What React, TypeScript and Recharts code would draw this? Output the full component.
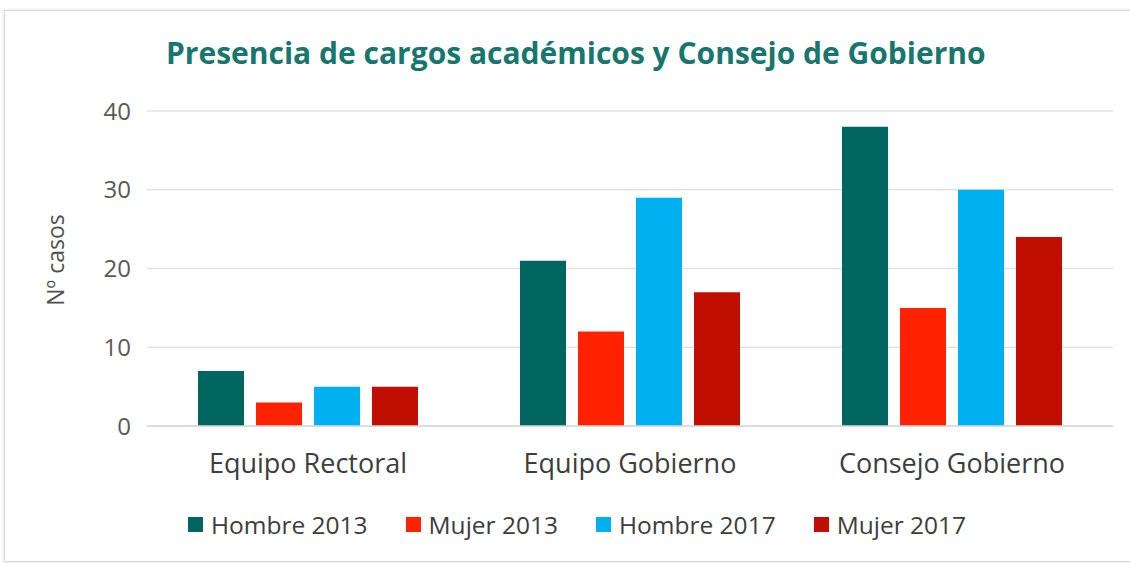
import { BarChart, Bar, XAxis, YAxis, CartesianGrid, Legend } from "recharts";

// categorías y valores
const categories = ["Equipo Rectoral", "Equipo Gobierno", "Consejo Gobierno"];
const hombre2013 = [7, 21, 38];
const mujer2013 = [3, 12, 15];
const hombre2017 = [5, 29, 30];
const mujer2017 = [5, 17, 24];
const yTicks = [0, 10, 20, 30, 40];

const series = [
  { key: "h2013", name: "Hombre 2013", color: "#00665F", values: hombre2013 },
  { key: "m2013", name: "Mujer 2013", color: "#FF2200", values: mujer2013 },
  { key: "h2017", name: "Hombre 2017", color: "#00B0F0", values: hombre2017 },
  { key: "m2017", name: "Mujer 2017", color: "#C00F00", values: mujer2017 },
];

const data = categories.map((cat, i) => {
  const row: Record<string, string | number> = { cat };
  series.forEach((s) => {
    row[s.key] = s.values[i];
  });
  return row;
});

const font = "'Open Sans', sans-serif";

// leyenda en una sola fila, como en el original
function LegendRow() {
  return (
    <div style={{ display: "flex", justifyContent: "center", alignItems: "center", gap: 38, paddingLeft: 24, fontFamily: font }}>
      {series.map((s) => (
        <div key={s.key} style={{ display: "flex", alignItems: "center", gap: 8 }}>
          <span style={{ width: 15, height: 15, background: s.color, display: "inline-block" }} />
          <span style={{ fontSize: 24.5, color: "#3d3d3d", whiteSpace: "nowrap" }}>{s.name}</span>
        </div>
      ))}
    </div>
  );
}

function YLabel() {
  const cx = 55;
  const cy = 260;
  return (
    <text
      x={cx}
      y={cy}
      transform={`rotate(-90, ${cx}, ${cy})`}
      textAnchor="middle"
      dominantBaseline="central"
      fill="#505050"
      fontSize={23}
      fontFamily={font}
    >
      Nº casos
    </text>
  );
}

export default function App() {
  return (
    <div style={{ position: "absolute", left: 0, top: 0, width: 1130, height: 563, background: "#fff", fontFamily: font }}>
      <div
        style={{
          position: "absolute",
          left: 4,
          top: 10,
          width: 1140,
          height: 550,
          border: "1px solid #d9d9d9",
          boxShadow: "0 0 3px rgba(0,0,0,0.15)",
        }}
      />
      <div
        style={{
          position: "absolute",
          left: 166,
          top: 32,
          fontSize: 30,
          fontWeight: 700,
          color: "#17766E",
          whiteSpace: "nowrap",
        }}
      >
        Presencia de cargos académicos y Consejo de Gobierno
      </div>
      <div style={{ position: "absolute", left: 0, top: 0 }}>
        <BarChart
          width={1130}
          height={563}
          data={data}
          margin={{ top: 111, right: 17, bottom: 77, left: 0 }}
          barGap={12}
          barCategoryGap={51}
        >
          <CartesianGrid vertical={false} stroke="#e3e3e3" strokeWidth={1.5} />
          <XAxis
            dataKey="cat"
            height={30}
            axisLine={{ stroke: "#d9d9d9", strokeWidth: 1.5 }}
            tickLine={false}
            tickMargin={22}
            tick={{ fill: "#3d3d3d", fontSize: 27, fontFamily: font }}
          />
          <YAxis
            domain={[0, 40]}
            ticks={yTicks}
            width={147}
            axisLine={false}
            tickLine={false}
            tickMargin={10}
            tick={{ fill: "#595959", fontSize: 24, fontFamily: font }}
            label={<YLabel />}
          />
          <Legend
            height={30}
            content={() => <LegendRow />}
            wrapperStyle={{ top: 508, bottom: "auto", left: 0, width: 1130 }}
          />
          {series.map((s) => (
            <Bar key={s.key} dataKey={s.key} name={s.name} fill={s.color} barSize={46} isAnimationActive={false} />
          ))}
        </BarChart>
      </div>
    </div>
  );
}
